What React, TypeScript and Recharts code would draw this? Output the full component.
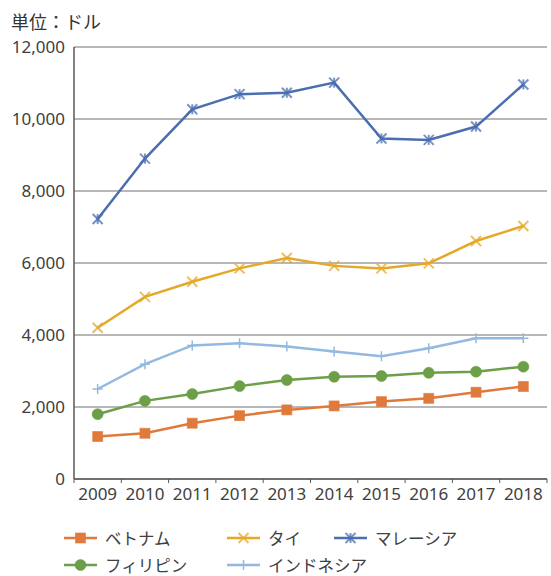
import { LineChart, Line, XAxis, YAxis, CartesianGrid } from 'recharts'

const years = ['2009', '2010', '2011', '2012', '2013', '2014', '2015', '2016', '2017', '2018']
const vietnam = [1180, 1270, 1550, 1760, 1920, 2030, 2150, 2240, 2410, 2570]
const thailand = [4200, 5060, 5480, 5850, 6140, 5920, 5850, 5990, 6610, 7030]
const malaysia = [7220, 8900, 10270, 10690, 10730, 11010, 9460, 9420, 9790, 10960]
const philippines = [1800, 2170, 2360, 2580, 2750, 2840, 2860, 2950, 2980, 3120]
const indonesia = [2500, 3190, 3710, 3770, 3680, 3540, 3410, 3630, 3910, 3910]
const yTicks = [0, 2000, 4000, 6000, 8000, 10000, 12000]

const COLORS = {
  vietnam: '#DF7A3C',
  thailand: '#E5A82A',
  malaysia: '#4A6EB0',
  philippines: '#6C9F48',
  indonesia: '#93B9E0',
}

const FONT_NUM = '"Noto Sans", sans-serif'
const FONT_JP = '"Noto Sans CJK JP", "Noto Sans", sans-serif'
const TEXT = '#404040'

const data = years.map((y, i) => ({
  year: y,
  vietnam: vietnam[i],
  thailand: thailand[i],
  malaysia: malaysia[i],
  philippines: philippines[i],
  indonesia: indonesia[i],
}))

type Kind = 'square' | 'x' | 'star' | 'circle' | 'plus'

function Marker({ cx, cy, kind, color }: { cx: number; cy: number; kind: Kind; color: string }) {
  if (cx == null || cy == null) return null
  const s = 5
  if (kind === 'square') {
    return <rect x={cx - s} y={cy - s} width={s * 2} height={s * 2} fill={color} stroke={color} strokeOpacity={0.6} strokeWidth={1} />
  }
  if (kind === 'circle') {
    return <circle cx={cx} cy={cy} r={5.5} fill={color} stroke={color} strokeOpacity={0.6} />
  }
  if (kind === 'plus') {
    return (
      <g stroke={color} strokeWidth={1.5}>
        <line x1={cx - s} y1={cy} x2={cx + s} y2={cy} />
        <line x1={cx} y1={cy - s} x2={cx} y2={cy + s} />
      </g>
    )
  }
  // x and star
  return (
    <g stroke={color} strokeWidth={2} strokeOpacity={0.75}>
      <line x1={cx - s} y1={cy - s} x2={cx + s} y2={cy + s} />
      <line x1={cx - s} y1={cy + s} x2={cx + s} y2={cy - s} />
      {kind === 'star' && <line x1={cx} y1={cy - s} x2={cx} y2={cy + s} />}
    </g>
  )
}

const series: { key: keyof typeof COLORS; name: string; kind: Kind }[] = [
  { key: 'vietnam', name: 'ベトナム', kind: 'square' },
  { key: 'thailand', name: 'タイ', kind: 'x' },
  { key: 'malaysia', name: 'マレーシア', kind: 'star' },
  { key: 'philippines', name: 'フィリピン', kind: 'circle' },
  { key: 'indonesia', name: 'インドネシア', kind: 'plus' },
]

const XTick = (props: any) => {
  const { x, y, payload, index } = props
  const half = payload.offset ?? 0
  const axisY = y - 9
  return (
    <g>
      <line x1={x - half} y1={axisY} x2={x - half} y2={axisY + 4} stroke="#595959" />
      {index === years.length - 1 && (
        <line x1={x + half} y1={axisY} x2={x + half} y2={axisY + 4} stroke="#595959" />
      )}
      <text x={x} y={y} dy={12} textAnchor="middle" fontSize={17} fontFamily={FONT_NUM} fill={TEXT}>
        {payload.value}
      </text>
    </g>
  )
}

export default function App() {
  return (
    <div style={{ position: 'absolute', left: 0, top: 0, width: 551, height: 576, background: '#fff', overflow: 'hidden' }}>
      <div style={{ position: 'absolute', left: 11, top: 10, fontSize: 18, lineHeight: '22px', fontFamily: FONT_JP, color: '#333' }}>
        単位：ドル
      </div>
      <LineChart width={551} height={576} data={data} margin={{ top: 47, right: 4, bottom: 67, left: 8 }}>
        <CartesianGrid horizontal vertical={false} stroke="#707070" />
        <XAxis
          dataKey="year"
          scale="band"
          height={30}
          tickLine={false}
          tickSize={4}
          tickMargin={5}
          axisLine={{ stroke: '#595959', strokeWidth: 1.5 }}
          tick={<XTick />}
          interval={0}
        />
        <YAxis
          width={66}
          domain={[0, 12000]}
          ticks={yTicks}
          tickFormatter={(v: number) => v.toLocaleString('en-US')}
          tickLine={false}
          tickSize={0}
          tickMargin={9}
          axisLine={{ stroke: '#595959', strokeWidth: 1.5 }}
          tick={{ fontSize: 17, fontFamily: FONT_NUM, fill: TEXT }}
        />
        <YAxis yAxisId="r" orientation="right" width={0} tick={false} tickLine={false} axisLine={{ stroke: '#707070' }} />
        {series.map(s => (
          <Line
            key={s.key}
            dataKey={s.key}
            name={s.name}
            stroke={COLORS[s.key]}
            strokeWidth={2.5}
            isAnimationActive={false}
            dot={(p: any) => <Marker key={`${s.key}-${p.index}`} cx={p.cx} cy={p.cy} kind={s.kind} color={COLORS[s.key]} />}
            activeDot={false}
          />
        ))}
      </LineChart>
      <div
        style={{
          position: 'absolute', left: 64, top: 529, display: 'grid',
          gridTemplateColumns: '163px 107px 180px', gridAutoRows: '18px', rowGap: 9,
          fontFamily: FONT_JP, fontSize: 16.5, lineHeight: '18px', color: TEXT, whiteSpace: 'nowrap',
        }}
      >
        {series.map(s => (
          <div key={s.key} style={{ display: 'flex', alignItems: 'center', gap: 8, height: 18 }}>
            <svg width={33} height={14} style={{ flexShrink: 0 }}>
              <line x1={0} y1={7} x2={33} y2={7} stroke={COLORS[s.key]} strokeWidth={2.5} />
              <Marker cx={16.5} cy={7} kind={s.kind} color={COLORS[s.key]} />
            </svg>
            <span>{s.name}</span>
          </div>
        ))}
      </div>
    </div>
  )
}
